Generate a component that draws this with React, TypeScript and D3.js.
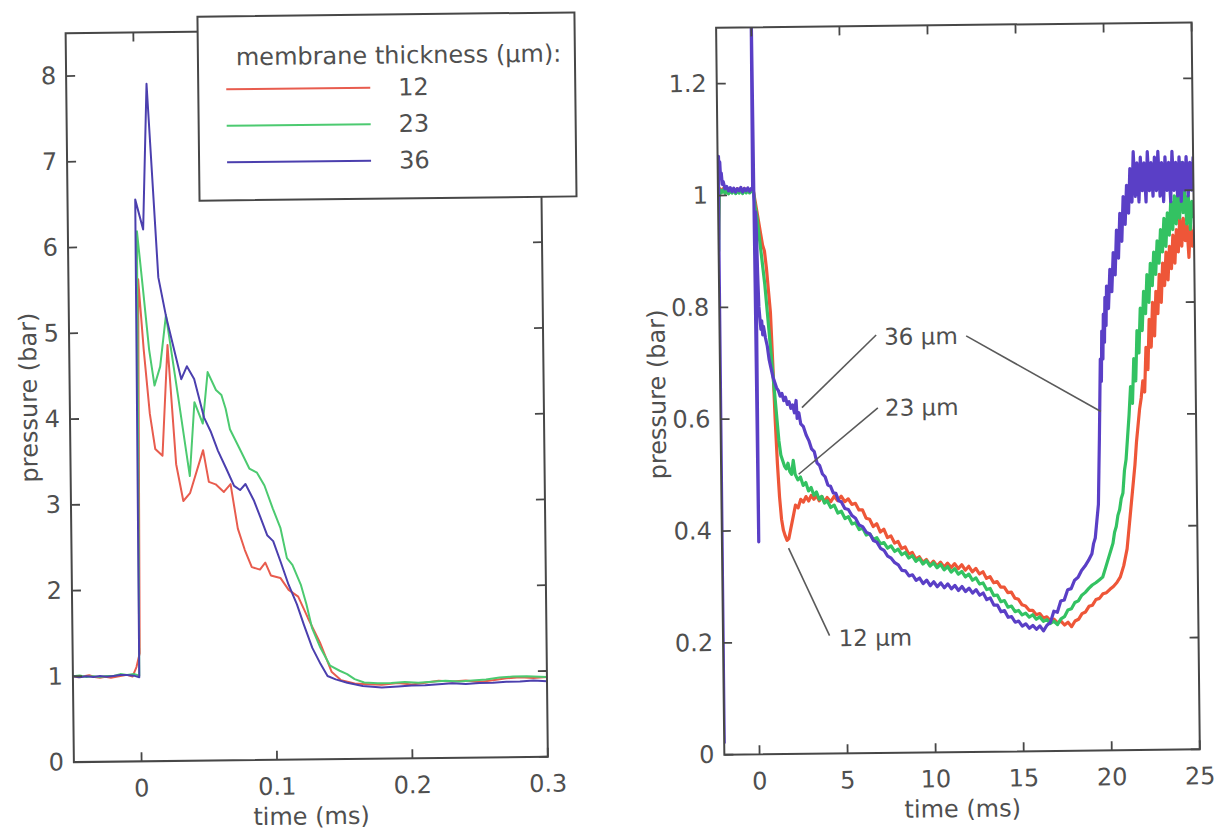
import React from 'react';
import * as d3 from 'd3';

type Pt = [number, number];

// ---- left panel: first 0.3 ms (time in ms, pressure in bar) ----
const shortXTicks = [0, 0.1, 0.2, 0.3];
const shortYTicks = [0, 1, 2, 3, 4, 5, 6, 7, 8];

const short12: Pt[] = [
    [-0.05, 1.0], [-0.046, 0.99], [-0.042, 1.0], [-0.038, 1.01], [-0.034, 0.99], [-0.03, 0.98], [-0.026, 0.99],
    [-0.022, 0.98], [-0.018, 0.99], [-0.014, 1.0], [-0.01, 1.01], [-0.006, 0.99], [-0.003, 1.1], [-0.0005, 1.26],
    [0.0015, 5.62], [0.005, 4.8], [0.009, 4.05], [0.0127, 3.64], [0.018, 3.56], [0.0226, 4.85], [0.028, 3.46],
    [0.033, 3.03], [0.038, 3.12], [0.048, 3.62], [0.052, 3.25], [0.057, 3.22], [0.063, 3.13], [0.068, 3.22],
    [0.073, 2.7], [0.078, 2.45], [0.083, 2.25], [0.089, 2.22], [0.093, 2.3], [0.097, 2.15], [0.104, 2.12],
    [0.11, 1.98], [0.117, 1.9], [0.124, 1.65], [0.133, 1.35], [0.141, 1.02], [0.148, 0.92], [0.158, 0.88],
    [0.168, 0.87], [0.178, 0.86], [0.19, 0.88], [0.2, 0.86], [0.21, 0.88], [0.22, 0.9], [0.23, 0.89],
    [0.24, 0.9], [0.25, 0.88], [0.26, 0.9], [0.27, 0.92], [0.28, 0.93], [0.29, 0.92], [0.3, 0.93]
];

const short23: Pt[] = [
    [-0.05, 1.0], [-0.045, 1.01], [-0.04, 0.99], [-0.035, 1.0], [-0.03, 0.99], [-0.025, 1.0], [-0.02, 1.0],
    [-0.015, 1.02], [-0.01, 1.01], [-0.005, 1.02], [-0.001, 1.0], [0.0, 3.5], [0.001, 6.18], [0.005, 5.5],
    [0.009, 4.8], [0.0127, 4.38], [0.017, 4.6], [0.0217, 5.2], [0.03, 4.25], [0.038, 3.32], [0.042, 4.18],
    [0.048, 3.93], [0.052, 4.53], [0.058, 4.32], [0.062, 4.26], [0.065, 4.1], [0.068, 3.86], [0.076, 3.6],
    [0.082, 3.4], [0.0876, 3.35], [0.093, 3.2], [0.099, 2.93], [0.1045, 2.7], [0.109, 2.35], [0.113, 2.27],
    [0.119, 2.04], [0.123, 1.81], [0.127, 1.53], [0.133, 1.3], [0.14, 1.09], [0.147, 1.03], [0.1525, 0.99],
    [0.158, 0.93], [0.165, 0.89], [0.175, 0.88], [0.185, 0.88], [0.195, 0.89], [0.205, 0.88], [0.215, 0.89],
    [0.225, 0.9], [0.235, 0.89], [0.245, 0.9], [0.255, 0.91], [0.265, 0.93], [0.275, 0.94], [0.285, 0.94], [0.3, 0.93]
];

const short36: Pt[] = [
    [-0.05, 1.0], [-0.045, 0.99], [-0.04, 1.0], [-0.035, 0.99], [-0.03, 1.0], [-0.025, 0.99], [-0.02, 1.0],
    [-0.015, 1.01], [-0.01, 1.01], [-0.005, 1.0], [-0.001, 0.98], [0.0, 6.55], [0.0056, 6.2], [0.0093, 7.9],
    [0.0164, 5.64], [0.0217, 5.19], [0.0325, 4.45], [0.0367, 4.6], [0.042, 4.45], [0.049, 4.0], [0.0537, 3.84],
    [0.059, 3.61], [0.065, 3.4], [0.0706, 3.2], [0.075, 3.15], [0.079, 3.22], [0.085, 3.03], [0.09, 2.82],
    [0.0946, 2.62], [0.099, 2.55], [0.1045, 2.3], [0.11, 2.04], [0.116, 1.81], [0.121, 1.57], [0.127, 1.3],
    [0.133, 1.11], [0.138, 0.97], [0.144, 0.93], [0.1525, 0.89], [0.164, 0.85], [0.178, 0.83], [0.19, 0.84],
    [0.2, 0.85], [0.21, 0.85], [0.22, 0.86], [0.23, 0.87], [0.24, 0.86], [0.25, 0.87], [0.26, 0.87],
    [0.27, 0.88], [0.28, 0.88], [0.29, 0.89], [0.3, 0.88]
];

// ---- right panel: full 25 ms ----
const longXTicks = [0, 5, 10, 15, 20, 25];
const longYTicks = [0, 0.2, 0.4, 0.6, 0.8, 1, 1.2];

const long12: Pt[] = [
    [-2, 0.92], [-1.97, 0.96], [-1.93, 1.0], [-1.88, 1.012], [-1.8, 1.006], [-1.7, 1.012], [-1.6, 1.005], [-1.5, 1.011],
    [-1.4, 1.005], [-1.3, 1.012], [-1.2, 1.006], [-1.1, 1.011], [-1.0, 1.005], [-0.9, 1.012], [-0.8, 1.006], [-0.7, 1.011],
    [-0.6, 1.005], [-0.5, 1.012], [-0.4, 1.006], [-0.3, 1.011], [-0.2, 1.005], [-0.1, 1.01], [0, 1.01], [0.1, 0.99],
    [0.2, 0.97], [0.3, 0.95], [0.4, 0.93], [0.5, 0.91], [0.6, 0.9], [0.7, 0.87], [0.8, 0.83], [0.9, 0.79], [1.0, 0.7],
    [1.1, 0.6], [1.2, 0.52], [1.3, 0.46], [1.4, 0.42], [1.5, 0.4], [1.6, 0.39], [1.7, 0.382], [1.8, 0.385], [1.9, 0.4],
    [2.0, 0.415], [2.1, 0.43], [2.2, 0.445], [2.35, 0.44], [2.5, 0.455], [2.65, 0.45], [2.8, 0.46], [2.95, 0.452],
    [3.1, 0.462], [3.25, 0.455], [3.4, 0.462], [3.55, 0.452], [3.7, 0.46], [3.85, 0.45], [4.0, 0.458], [4.2, 0.45],
    [4.4, 0.46], [4.6, 0.452], [4.8, 0.46], [5.0, 0.45], [5.2, 0.455], [5.4, 0.445], [5.6, 0.447], [5.8, 0.435],
    [6.0, 0.435], [6.2, 0.42], [6.4, 0.418], [6.6, 0.405], [6.8, 0.41], [7.0, 0.395], [7.2, 0.4], [7.4, 0.385],
    [7.6, 0.388], [7.8, 0.375], [8.0, 0.378], [8.2, 0.365], [8.4, 0.368], [8.6, 0.355], [8.8, 0.358], [9.0, 0.346],
    [9.2, 0.35], [9.4, 0.34], [9.6, 0.345], [9.8, 0.335], [10.0, 0.342], [10.2, 0.333], [10.4, 0.34], [10.6, 0.331],
    [10.8, 0.338], [11.0, 0.33], [11.2, 0.337], [11.4, 0.328], [11.6, 0.335], [11.8, 0.325], [12.0, 0.332], [12.2, 0.322],
    [12.4, 0.328], [12.6, 0.318], [12.8, 0.322], [13.0, 0.31], [13.2, 0.313], [13.4, 0.302], [13.6, 0.304], [13.8, 0.294],
    [14.0, 0.294], [14.2, 0.284], [14.4, 0.285], [14.6, 0.274], [14.8, 0.272], [15.0, 0.262], [15.2, 0.26], [15.4, 0.252],
    [15.6, 0.252], [15.8, 0.244], [16.0, 0.246], [16.2, 0.238], [16.4, 0.24], [16.6, 0.233], [16.8, 0.236], [17.0, 0.229],
    [17.2, 0.232], [17.4, 0.225], [17.6, 0.23], [17.8, 0.222], [18.0, 0.232], [18.2, 0.235], [18.4, 0.245], [18.6, 0.248],
    [18.8, 0.258], [19.0, 0.26], [19.2, 0.27], [19.4, 0.272], [19.6, 0.28], [19.8, 0.282], [20.0, 0.288], [20.2, 0.293],
    [20.4, 0.3], [20.6, 0.31], [20.8, 0.33], [20.9, 0.345], [21.0, 0.36], [21.1, 0.39], [21.2, 0.42], [21.3, 0.45],
    [21.4, 0.48], [21.5, 0.51], [21.6, 0.55], [21.7, 0.58], [21.8, 0.61], [21.9, 0.63], [22.0, 0.66], [22.1, 0.64],
    [22.2, 0.72], [22.3, 0.68], [22.4, 0.77], [22.5, 0.72], [22.6, 0.8], [22.7, 0.74], [22.8, 0.82], [22.9, 0.78],
    [23.0, 0.85], [23.1, 0.8], [23.2, 0.87], [23.3, 0.83], [23.4, 0.89], [23.5, 0.84], [23.6, 0.9], [23.7, 0.86],
    [23.8, 0.92], [23.9, 0.87], [24.0, 0.93], [24.1, 0.89], [24.2, 0.95], [24.3, 0.9], [24.4, 0.95], [24.5, 0.91],
    [24.6, 0.94], [24.7, 0.88], [24.8, 0.94], [24.9, 0.9], [25.0, 0.93]
];

const long23: Pt[] = [
    [-2, 0.9], [-1.97, 0.95], [-1.93, 1.0], [-1.88, 1.01], [-1.8, 1.005], [-1.7, 1.01], [-1.6, 1.004], [-1.5, 1.01],
    [-1.4, 1.003], [-1.3, 1.009], [-1.2, 1.004], [-1.1, 1.01], [-1.0, 1.003], [-0.9, 1.009], [-0.8, 1.004], [-0.7, 1.01],
    [-0.6, 1.003], [-0.5, 1.009], [-0.4, 1.004], [-0.3, 1.01], [-0.2, 1.004], [-0.1, 1.008], [0, 1.01], [0.1, 0.98],
    [0.2, 0.96], [0.3, 0.93], [0.4, 0.9], [0.5, 0.87], [0.6, 0.84], [0.7, 0.8], [0.8, 0.76], [0.9, 0.72], [1.0, 0.68],
    [1.1, 0.64], [1.2, 0.6], [1.3, 0.56], [1.4, 0.535], [1.5, 0.525], [1.6, 0.515], [1.7, 0.51], [1.8, 0.52],
    [1.9, 0.505], [2.0, 0.5], [2.1, 0.525], [2.2, 0.5], [2.35, 0.49], [2.5, 0.495], [2.65, 0.48], [2.8, 0.485],
    [2.95, 0.47], [3.1, 0.476], [3.25, 0.462], [3.4, 0.468], [3.55, 0.455], [3.7, 0.46], [3.85, 0.448], [4.0, 0.452],
    [4.2, 0.44], [4.4, 0.444], [4.6, 0.43], [4.8, 0.433], [5.0, 0.42], [5.2, 0.423], [5.4, 0.41], [5.6, 0.412],
    [5.8, 0.4], [6.0, 0.402], [6.2, 0.39], [6.4, 0.392], [6.6, 0.382], [6.8, 0.385], [7.0, 0.374], [7.2, 0.376],
    [7.4, 0.366], [7.6, 0.37], [7.8, 0.36], [8.0, 0.364], [8.2, 0.354], [8.4, 0.358], [8.6, 0.348], [8.8, 0.352],
    [9.0, 0.342], [9.2, 0.347], [9.4, 0.337], [9.6, 0.343], [9.8, 0.333], [10.0, 0.339], [10.2, 0.33], [10.4, 0.336],
    [10.6, 0.326], [10.8, 0.332], [11.0, 0.322], [11.2, 0.328], [11.4, 0.318], [11.6, 0.323], [11.8, 0.313], [12.0, 0.318],
    [12.2, 0.307], [12.4, 0.311], [12.6, 0.3], [12.8, 0.302], [13.0, 0.29], [13.2, 0.292], [13.4, 0.279], [13.6, 0.28],
    [13.8, 0.268], [14.0, 0.27], [14.2, 0.258], [14.4, 0.26], [14.6, 0.25], [14.8, 0.252], [15.0, 0.244], [15.2, 0.247],
    [15.4, 0.24], [15.6, 0.244], [15.8, 0.236], [16.0, 0.24], [16.2, 0.232], [16.4, 0.235], [16.6, 0.228], [16.8, 0.232],
    [17.0, 0.226], [17.2, 0.236], [17.4, 0.24], [17.6, 0.252], [17.8, 0.254], [18.0, 0.265], [18.2, 0.268], [18.4, 0.278],
    [18.6, 0.283], [18.8, 0.29], [19.0, 0.296], [19.2, 0.3], [19.4, 0.305], [19.6, 0.31], [19.8, 0.33], [20.0, 0.35],
    [20.1, 0.36], [20.2, 0.37], [20.3, 0.39], [20.4, 0.4], [20.5, 0.42], [20.6, 0.43], [20.7, 0.45], [20.8, 0.46],
    [20.9, 0.5], [21.0, 0.52], [21.1, 0.56], [21.2, 0.6], [21.3, 0.65], [21.4, 0.62], [21.5, 0.7], [21.6, 0.66],
    [21.7, 0.75], [21.8, 0.71], [21.9, 0.79], [22.0, 0.75], [22.1, 0.82], [22.2, 0.78], [22.3, 0.85], [22.4, 0.8],
    [22.5, 0.87], [22.6, 0.83], [22.7, 0.89], [22.8, 0.85], [22.9, 0.91], [23.0, 0.87], [23.1, 0.93], [23.2, 0.89],
    [23.3, 0.95], [23.4, 0.9], [23.5, 0.96], [23.6, 0.92], [23.7, 0.98], [23.8, 0.93], [23.9, 0.99], [24.0, 0.94],
    [24.1, 1.0], [24.2, 0.95], [24.3, 1.05], [24.4, 0.96], [24.5, 1.0], [24.6, 0.94], [24.7, 0.99], [24.8, 0.93],
    [24.9, 0.98], [25.0, 0.95]
];

const long36: Pt[] = [
    [-2, 0.02], [-1.98, 0.9], [-1.95, 1.07], [-1.92, 1.04], [-1.88, 1.06], [-1.84, 1.03], [-1.8, 1.04], [-1.75, 1.02],
    [-1.7, 1.025], [-1.6, 1.012], [-1.5, 1.016], [-1.4, 1.008], [-1.3, 1.014], [-1.2, 1.007], [-1.1, 1.013], [-1.0, 1.006],
    [-0.9, 1.012], [-0.8, 1.008], [-0.7, 1.014], [-0.6, 1.006], [-0.5, 1.012], [-0.4, 1.008], [-0.3, 1.013], [-0.2, 1.007],
    [-0.1, 1.012], [-0.03, 1.01], [0, 1.34], [0.05, 0.85], [0.09, 0.38], [0.12, 0.97], [0.16, 0.93], [0.2, 0.86],
    [0.25, 0.8], [0.3, 0.78], [0.35, 0.76], [0.4, 0.775], [0.45, 0.75], [0.5, 0.765], [0.6, 0.745], [0.7, 0.73],
    [0.8, 0.705], [0.9, 0.69], [1.0, 0.675], [1.1, 0.665], [1.2, 0.655], [1.3, 0.65], [1.4, 0.64], [1.5, 0.645],
    [1.6, 0.632], [1.7, 0.638], [1.8, 0.625], [1.9, 0.63], [2.0, 0.618], [2.1, 0.624], [2.2, 0.61], [2.3, 0.632],
    [2.35, 0.6], [2.45, 0.61], [2.55, 0.59], [2.7, 0.585], [2.85, 0.57], [3.0, 0.56], [3.15, 0.545], [3.3, 0.54],
    [3.45, 0.52], [3.6, 0.515], [3.75, 0.5], [3.9, 0.495], [4.05, 0.48], [4.2, 0.478], [4.35, 0.466], [4.5, 0.465],
    [4.65, 0.452], [4.8, 0.45], [5.0, 0.438], [5.2, 0.436], [5.4, 0.425], [5.6, 0.42], [5.8, 0.408], [6.0, 0.405],
    [6.2, 0.395], [6.4, 0.392], [6.6, 0.38], [6.8, 0.377], [7.0, 0.366], [7.2, 0.362], [7.4, 0.352], [7.6, 0.348],
    [7.8, 0.34], [8.0, 0.336], [8.2, 0.326], [8.4, 0.325], [8.6, 0.316], [8.8, 0.318], [9.0, 0.308], [9.2, 0.312],
    [9.4, 0.302], [9.6, 0.308], [9.8, 0.298], [10.0, 0.305], [10.2, 0.296], [10.4, 0.303], [10.6, 0.294], [10.8, 0.301],
    [11.0, 0.292], [11.2, 0.298], [11.4, 0.289], [11.6, 0.296], [11.8, 0.287], [12.0, 0.293], [12.2, 0.284], [12.4, 0.29],
    [12.6, 0.28], [12.8, 0.284], [13.0, 0.272], [13.2, 0.275], [13.4, 0.262], [13.6, 0.262], [13.8, 0.25], [14.0, 0.252],
    [14.2, 0.24], [14.4, 0.241], [14.6, 0.231], [14.8, 0.233], [15.0, 0.224], [15.2, 0.228], [15.4, 0.22], [15.6, 0.225],
    [15.8, 0.218], [16.0, 0.224], [16.2, 0.215], [16.4, 0.225], [16.6, 0.23], [16.8, 0.25], [17.0, 0.248], [17.2, 0.268],
    [17.4, 0.27], [17.6, 0.288], [17.8, 0.29], [18.0, 0.305], [18.2, 0.31], [18.4, 0.322], [18.6, 0.33], [18.8, 0.34],
    [19.0, 0.352], [19.1, 0.37], [19.2, 0.38], [19.3, 0.41], [19.4, 0.44], [19.45, 0.5], [19.5, 0.56], [19.55, 0.63],
    [19.6, 0.7], [19.65, 0.66], [19.7, 0.75], [19.75, 0.7], [19.8, 0.78], [19.85, 0.73], [19.9, 0.81], [19.95, 0.76],
    [20.0, 0.83], [20.1, 0.79], [20.2, 0.86], [20.3, 0.82], [20.4, 0.89], [20.5, 0.85], [20.6, 0.93], [20.7, 0.88],
    [20.8, 0.96], [20.9, 0.91], [21.0, 0.99], [21.1, 0.94], [21.2, 1.01], [21.3, 0.96], [21.4, 1.04], [21.5, 0.98],
    [21.6, 1.07], [21.7, 0.99], [21.8, 1.05], [21.9, 0.98], [22.0, 1.06], [22.1, 1.0], [22.2, 1.05], [22.3, 0.98],
    [22.4, 1.07], [22.5, 1.0], [22.6, 1.05], [22.7, 0.99], [22.8, 1.06], [22.9, 1.0], [23.0, 1.07], [23.1, 0.99],
    [23.2, 1.05], [23.3, 0.98], [23.4, 1.06], [23.5, 1.0], [23.6, 1.05], [23.7, 0.98], [23.8, 1.07], [23.9, 1.0],
    [24.0, 1.05], [24.1, 0.99], [24.2, 1.06], [24.3, 0.98], [24.4, 1.05], [24.5, 1.0], [24.6, 1.06], [24.7, 0.99],
    [24.8, 1.05], [24.9, 1.0], [25.0, 1.06]
];

const thicknesses = ['12', '23', '36'];

// labels on the right panel: text anchor + leader line, in data units
const callouts = [
    { label: '36 \u00b5m', at: [7.34, 0.744], lines: [[[6.89, 0.7475], [2.63, 0.619]], [[12.0, 0.744], [19.6, 0.606]]] },
    { label: '23 \u00b5m', at: [7.34, 0.617], lines: [[[6.94, 0.617], [2.4, 0.5]]] },
    { label: '12 \u00b5m', at: [4.56, 0.206], lines: [[[4.05, 0.211], [1.78, 0.368]]] }
];

const FONT = '"DejaVu Sans", Arial, sans-serif';
const TEXT = '#4f4f4f';
const AXIS = '#474747';
const SHORT_COLORS = ['#e85c4e', '#4cca70', '#4b3fae'];
const LONG_COLORS = ['#ee5638', '#33c262', '#5a3fc6'];

const Panel = ({ id, frame, xDomain, yDomain, xTicks, yTicks, series, colors, width, children }: any) => {
    const x = d3.scaleLinear().domain(xDomain).range([frame.left, frame.right]);
    const y = d3.scaleLinear().domain(yDomain).range([frame.bottom, frame.top]);
    const line = d3.line<Pt>().x(d => x(d[0])).y(d => y(d[1]));
    const tick = 9;

    return (
        <g>
            <defs>
                <clipPath id={id}>
                    <rect x={frame.left} y={frame.top} width={frame.right - frame.left} height={frame.bottom - frame.top} />
                </clipPath>
            </defs>
            <g clipPath={`url(#${id})`}>
                {series.map((s: Pt[], i: number) => (
                    <path key={i} d={line(s) || ''} fill="none" stroke={colors[i]} strokeWidth={width} strokeLinejoin="round" />
                ))}
            </g>
            <rect x={frame.left} y={frame.top} width={frame.right - frame.left} height={frame.bottom - frame.top}
                fill="none" stroke={AXIS} strokeWidth={2} />
            {xTicks.map((t: number) => (
                <g key={'x' + t}>
                    <line x1={x(t)} x2={x(t)} y1={frame.bottom} y2={frame.bottom - tick} stroke={AXIS} strokeWidth={1.8} />
                    <line x1={x(t)} x2={x(t)} y1={frame.top} y2={frame.top + tick} stroke={AXIS} strokeWidth={1.8} />
                    <text x={x(t)} y={frame.bottom + 27} textAnchor="middle" dominantBaseline="central"
                        fontSize={24} fill={TEXT} fontFamily={FONT}>{String(t)}</text>
                </g>
            ))}
            {yTicks.map((t: number) => (
                <g key={'y' + t}>
                    <line x1={frame.left} x2={frame.left + tick} y1={y(t)} y2={y(t)} stroke={AXIS} strokeWidth={1.8} />
                    <line x1={frame.right} x2={frame.right - tick} y1={y(t)} y2={y(t)} stroke={AXIS} strokeWidth={1.8} />
                    <text x={frame.left - 10} y={y(t)} textAnchor="end" dominantBaseline="central"
                        fontSize={24} fill={TEXT} fontFamily={FONT}>{String(t)}</text>
                </g>
            ))}
            <text x={(frame.left + frame.right) / 2} y={813} textAnchor="middle" dominantBaseline="central"
                fontSize={24} fill={TEXT} fontFamily={FONT}>time (ms)</text>
            <text transform={`translate(${frame.left - frame.labelGap},${frame.labelY}) rotate(-90)`} textAnchor="middle"
                dominantBaseline="central" fontSize={24} fill={TEXT} fontFamily={FONT}>pressure (bar)</text>
            {children && children(x, y)}
        </g>
    );
};

export default function App() {
    const leftFrame = { left: 70, right: 544, top: 27, bottom: 756, labelY: 391, labelGap: 41 };
    const rightFrame = { left: 720.5, right: 1196, top: 29, bottom: 756, labelY: 395, labelGap: 63 };
    const legend = { left: 202, right: 579, top: 12, bottom: 196 };
    const legendRows = [85, 121.5, 158];

    return (
        <div style={{ position: 'absolute', left: 0, top: 0 }}>
            <svg width={1222} height={832} style={{ display: 'block', background: '#fff' }}>
                <g transform="rotate(-0.65 611 416)">
                    <Panel id="clipShort" frame={leftFrame} xDomain={[-0.05, 0.3]} yDomain={[0, 8.5]}
                        xTicks={shortXTicks} yTicks={shortYTicks} series={[short12, short23, short36]}
                        colors={SHORT_COLORS} width={2} />
                    <Panel id="clipLong" frame={rightFrame} xDomain={[-2, 25]} yDomain={[0, 1.3]}
                        xTicks={longXTicks} yTicks={longYTicks} series={[long12, long23, long36]}
                        colors={LONG_COLORS} width={3.2}>
                        {(x: any, y: any) => callouts.map(c => (
                            <g key={c.label}>
                                {c.lines.map((l, i) => (
                                    <line key={i} x1={x(l[0][0])} y1={y(l[0][1])} x2={x(l[1][0])} y2={y(l[1][1])}
                                        stroke="#5a5a5a" strokeWidth={1.6} />
                                ))}
                                <text x={x(c.at[0])} y={y(c.at[1])} dominantBaseline="central" fontSize={23}
                                    fill={TEXT} fontFamily={FONT}>{c.label}</text>
                            </g>
                        ))}
                    </Panel>

                    {/* legend */}
                    <rect x={legend.left} y={legend.top} width={legend.right - legend.left} height={legend.bottom - legend.top}
                        fill="#fff" stroke={AXIS} strokeWidth={2} />
                    <text x={240} y={53} dominantBaseline="central" fontSize={24} fill={TEXT} fontFamily={FONT}>
                        membrane thickness ({'\u00b5'}m):
                    </text>
                    {thicknesses.map((t, i) => (
                        <g key={t}>
                            <line x1={230} x2={374} y1={legendRows[i]} y2={legendRows[i]} stroke={SHORT_COLORS[i]} strokeWidth={2} />
                            <text x={402} y={legendRows[i]} dominantBaseline="central" fontSize={24} fill={TEXT} fontFamily={FONT}>{t}</text>
                        </g>
                    ))}
                </g>
            </svg>
        </div>
    );
}
